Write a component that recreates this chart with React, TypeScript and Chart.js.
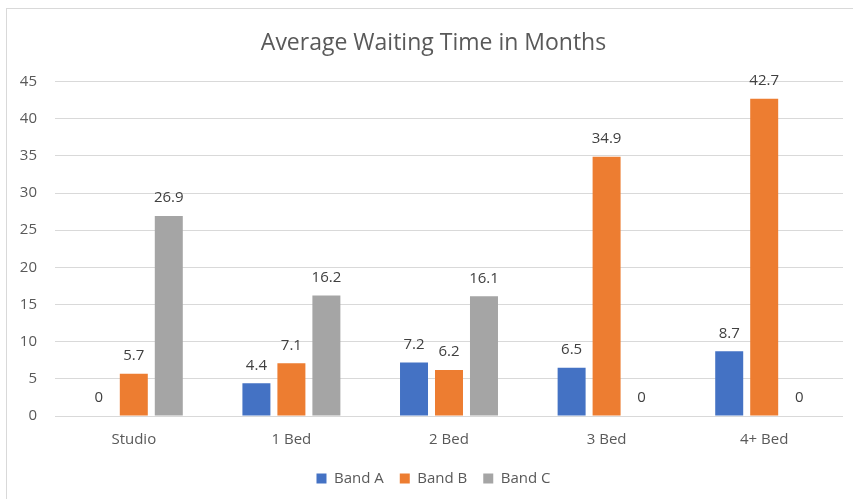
import { useEffect, useRef } from "react";
import { Chart, registerables } from "chart.js";

Chart.register(...registerables);

const titleText = "Average Waiting Time in Months";
const categories = ["Studio", "1 Bed", "2 Bed", "3 Bed", "4+ Bed"];
const bandA = [0, 4.4, 7.2, 6.5, 8.7];
const bandB = [5.7, 7.1, 6.2, 34.9, 42.7];
const bandC = [26.9, 16.2, 16.1, 0, 0];
const seriesNames = ["Band A", "Band B", "Band C"];
const seriesColors = ["#4472C4", "#ED7D31", "#A5A5A5"];
const yMin = 0;
const yMax = 45;
const yStep = 5;

const FONT = "'Open Sans', 'Noto Sans', sans-serif";

const valueLabels = {
  id: "valueLabels",
  afterDatasetsDraw(chart: any) {
    const ctx = chart.ctx;
    ctx.save();
    ctx.font = `15px ${FONT}`;
    ctx.fillStyle = "#404040";
    ctx.textAlign = "center";
    ctx.textBaseline = "middle";
    chart.data.datasets.forEach((ds: any, i: number) => {
      const meta = chart.getDatasetMeta(i);
      meta.data.forEach((el: any, j: number) => {
        const v = ds.data[j];
        ctx.fillText(String(v), el.x, el.y - 18);
      });
    });
    ctx.restore();
  },
};

export default function App() {
  const ref = useRef<HTMLCanvasElement | null>(null);

  useEffect(() => {
    document.body.style.margin = "0";
    const canvas = ref.current;
    if (!canvas) return;
    const series = [bandA, bandB, bandC];
    const chart = new Chart(canvas, {
      type: "bar",
      data: {
        labels: categories,
        datasets: series.map((d, i) => ({
          label: seriesNames[i],
          data: d,
          backgroundColor: seriesColors[i],
          borderWidth: 0,
          categoryPercentage: 0.666,
          barPercentage: 0.8,
        })),
      },
      options: {
        responsive: false,
        animation: false,
        devicePixelRatio: 1,
        layout: { padding: { left: 14, right: 0, top: 0, bottom: 3 } },
        plugins: {
          title: {
            display: true,
            text: titleText,
            color: "#595959",
            font: { family: FONT, size: 23, weight: "normal" },
            padding: { top: 30, bottom: 24 },
          },
          legend: {
            position: "bottom",
            labels: {
              color: "#595959",
              font: { family: FONT, size: 15 },
              boxWidth: 10,
              boxHeight: 10,
              padding: 16,
            },
          },
          tooltip: { enabled: false },
        },
        scales: {
          x: {
            grid: { display: false, drawTicks: false },
            border: { display: false },
            ticks: { color: "#595959", font: { family: FONT, size: 15 }, padding: 15 },
            afterFit: (s: any) => {
              s.height = 39;
            },
          },
          y: {
            min: yMin,
            max: yMax,
            ticks: {
              stepSize: yStep,
              color: "#595959",
              font: { family: FONT, size: 15 },
              padding: 18,
            },
            grid: { color: "#D9D9D9", drawTicks: false, lineWidth: 1 },
            border: { display: false },
            afterFit: (s: any) => {
              s.width = 41;
            },
          },
          r: {
            type: "linear",
            position: "right",
            display: true,
            grid: { display: false, drawTicks: false },
            border: { display: false },
            ticks: { display: false },
            afterFit: (s: any) => {
              s.width = 10;
            },
          },
        },
      } as any,
      plugins: [valueLabels],
    });
    return () => chart.destroy();
  }, []);

  return (
    <div style={{ position: "relative", width: 853, height: 499, background: "#fff" }}>
      <canvas ref={ref} width={853} height={499} style={{ position: "absolute", left: 0, top: 0 }} />
      <div
        style={{
          position: "absolute",
          left: 6,
          top: 8,
          width: 900,
          height: 600,
          borderLeft: "1px solid #D9D9D9",
          borderTop: "1px solid #D9D9D9",
          pointerEvents: "none",
        }}
      />
    </div>
  );
}
